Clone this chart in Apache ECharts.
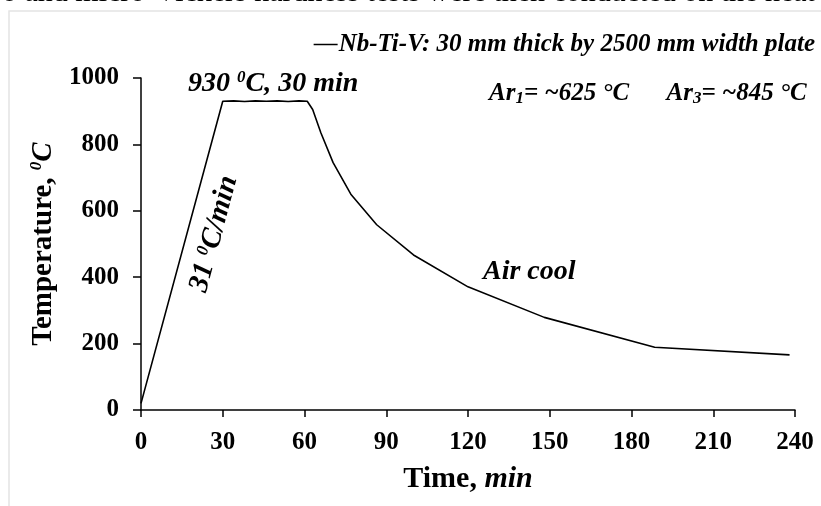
<!DOCTYPE html>
<html>
<head>
<meta charset="utf-8">
<script src="https://cdn.jsdelivr.net/npm/echarts@6/dist/echarts.min.js"></script>
<style>
  html, body { margin: 0; padding: 0; background: #fff; }
  #chart { width: 821px; height: 506px; }
</style>
</head>
<body>
<div id="chart"></div>
<script>
// heat treatment cycle
const timeMin = [0, 30, 34, 38, 42, 46, 50, 54, 58, 61, 63, 66, 70.5, 77, 86.5, 100, 120, 148, 188.5, 238];
const tempC   = [20, 930, 931, 929, 931, 930, 931, 929, 931, 930, 905, 835, 745, 650, 558, 467, 371, 279, 189, 166];
const xTicks = [0, 30, 60, 90, 120, 150, 180, 210, 240];
const yTicks = [0, 200, 400, 600, 800, 1000];
const seriesName = "Nb-Ti-V: 30 mm thick by 2500 mm width plate";

const serif = "Liberation Serif, Times New Roman, serif";
const chart = echarts.init(document.getElementById("chart"));

const sup = { fontSize: 17, fontWeight: "bold", fontStyle: "italic", fontFamily: serif, verticalAlign: "top", padding: [0, 0, 12, 0], color: "#000" };
const sub = { fontSize: 17, fontWeight: "bold", fontStyle: "italic", fontFamily: serif, padding: [10, 0, 0, 0], color: "#000" };

const option = {
    animation: false,
    backgroundColor: "#fff",
    grid: { left: 141, right: 26, top: 78, bottom: 96, containLabel: false },
    legend: {
        right: 1, top: 27,
        icon: "path://M0,0 L24,0 L24,1.5 L0,1.5 Z",
        itemWidth: 24, itemHeight: 2, itemGap: 0,
        textStyle: { fontFamily: serif, fontSize: 25, fontWeight: "bold", fontStyle: "italic", color: "#000", padding: [0, 0, 0, -4] },
        data: [seriesName]
    },
    xAxis: {
        type: "value", min: xTicks[0], max: xTicks[xTicks.length - 1], interval: 30,
        name: "{a|Time, }{b|min}", nameLocation: "middle", nameGap: 54,
        nameTextStyle: { rich: {
            a: { fontFamily: serif, fontSize: 30, fontWeight: "bold", color: "#000" },
            b: { fontFamily: serif, fontSize: 30, fontWeight: "bold", fontStyle: "italic", color: "#000" }
        } },
        axisLine: { lineStyle: { color: "#000", width: 1.5 } },
        axisTick: { length: 7, lineStyle: { color: "#000", width: 1.5 } },
        axisLabel: { margin: 20, fontFamily: serif, fontSize: 25, fontWeight: "bold", color: "#000", formatter: v => String(v) },
        splitLine: { show: false }
    },
    yAxis: {
        type: "value", min: yTicks[0], max: yTicks[yTicks.length - 1], interval: 200,
        name: "{a|Temperature, }{s|0}{b|C}", nameLocation: "middle", nameGap: 66, nameRotate: 90,
        nameTextStyle: { rich: {
            a: { fontFamily: serif, fontSize: 29, fontWeight: "bold", color: "#000" },
            s: { fontFamily: serif, fontSize: 17, fontWeight: "bold", fontStyle: "italic", color: "#000", verticalAlign: "top", padding: [0, 0, 13, 0] },
            b: { fontFamily: serif, fontSize: 29, fontWeight: "bold", fontStyle: "italic", color: "#000" }
        } },
        axisLine: { show: true, lineStyle: { color: "#000", width: 1.5 } },
        axisTick: { show: true, length: 8, lineStyle: { color: "#000", width: 1.5 } },
        axisLabel: { margin: 22, fontFamily: serif, fontSize: 25, fontWeight: "bold", color: "#000", formatter: v => String(v) },
        splitLine: { show: false }
    },
    series: [{
        name: seriesName,
        type: "line",
        data: timeMin.map((t, i) => [t, tempC[i]]),
        symbol: "none",
        lineStyle: { color: "#000", width: 1.6 },
        itemStyle: { color: "#000" }
    }],
    graphic: [
        { type: "text", x: -8, y: 8, silent: true,
          style: { text: "ro and micro-Vickers hardness tests were then conducted on the heat", verticalAlign: "bottom", fontFamily: serif, fontSize: 30, fill: "#000" } },
        { type: "polyline", silent: true,
          shape: { points: [[9, 506], [9, 11], [821, 11]] },
          style: { stroke: "#e4e4e4", lineWidth: 1.5, fill: null } },
        { type: "text", x: 188, y: 69, silent: true,
          style: { text: "{a|930 }{s|0}{a|C, 30 min}", rich: {
              a: { fontFamily: serif, fontSize: 28, fontWeight: "bold", fontStyle: "italic", fill: "#000" },
              s: sup } } },
        { type: "text", x: 489, y: 80, silent: true,
          style: { text: "{a|Ar}{b|1}{a|= ~625 °C      Ar}{b|3}{a|= ~845 °C}", rich: {
              a: { fontFamily: serif, fontSize: 25, fontWeight: "bold", fontStyle: "italic", fill: "#000" },
              b: sub } } },
        { type: "text", x: 214, y: 234, rotation: 75 * Math.PI / 180, silent: true,
          style: { text: "{a|31 }{s|0}{a|C/min}", align: "center", verticalAlign: "middle", rich: {
              a: { fontFamily: serif, fontSize: 29, fontWeight: "bold", fontStyle: "italic", fill: "#000" },
              s: sup } } },
        { type: "text", x: 483, y: 258, silent: true,
          style: { text: "Air cool", fontFamily: serif, fontSize: 28, fontWeight: "bold", fontStyle: "italic", fill: "#000" } }
    ]
};
chart.setOption(option);
</script>
</body>
</html>
